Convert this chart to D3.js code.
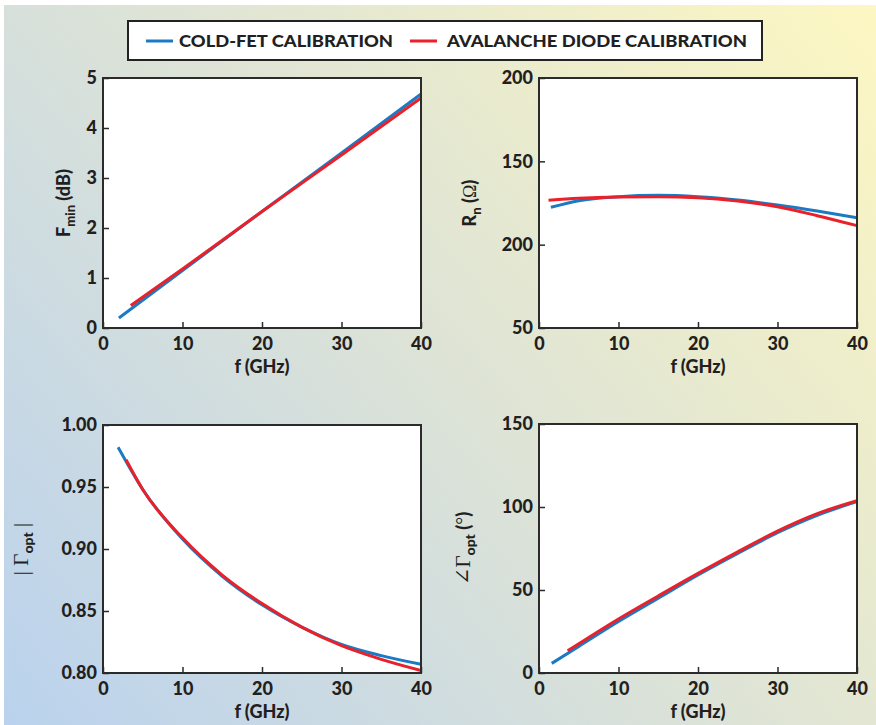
<!DOCTYPE html>
<html>
<head>
<meta charset="utf-8">
<script src="https://cdn.jsdelivr.net/npm/d3@7"></script>
<style>
  html, body { margin: 0; padding: 0; background: #fff; }
  svg { display: block; }
  .tick text { font-family: Lato, "Open Sans", sans-serif; font-weight: 900; font-size: 18px; fill: #231f20; }
  .tick line { stroke: #2b2b2b; stroke-width: 1.5; }
  .domain { display: none; }
  .lab { font-family: Lato, "Open Sans", sans-serif; font-weight: 900; font-size: 18px; fill: #231f20; }
  .serif { font-family: "Liberation Serif", "DejaVu Serif", serif; font-weight: 400; }
</style>
</head>
<body>
<svg id="chart" width="876" height="725"></svg>
<script>
// ---- data ----
const seriesNames = ['COLD-FET CALIBRATION', 'AVALANCHE DIODE CALIBRATION'];
const seriesColors = ['#1b7ac4', '#e8212b'];

const xTicks = [0, 10, 20, 30, 40];

const fminCold = [[2, 0.2], [10, 1.15], [20, 2.33], [30, 3.5], [40, 4.68]];
const fminAval = [[3.5, 0.45], [10, 1.18], [20, 2.33], [30, 3.46], [40, 4.6]];
const fminTicks = [0, 1, 2, 3, 4, 5];

const rnCold = [[1.5, 122.4], [5, 126.4], [10, 128.8], [15, 129.6], [20, 128.8], [25, 126.8], [30, 123.8], [35, 120.2], [40, 116.2]];
const rnAval = [[1.2, 126.6], [5, 127.8], [10, 128.6], [15, 128.8], [20, 128.2], [25, 126.2], [30, 122.8], [35, 117.4], [40, 111.4]];
const rnTicks = [50, 100, 150, 200];
const rnTickLabels = ['50', '200', '150', '200'];   // as printed in the original

const magCold = [[1.9, 0.982], [5, 0.948], [10, 0.908], [15, 0.878], [20, 0.855], [25, 0.837], [30, 0.823], [35, 0.814], [40, 0.807]];
const magAval = [[2.9, 0.972], [5, 0.948], [10, 0.909], [15, 0.879], [20, 0.856], [25, 0.837], [30, 0.822], [35, 0.811], [40, 0.802]];
const magTicks = [0.80, 0.85, 0.90, 0.95, 1.00];

const angCold = [[1.6, 5.8], [5, 16], [10, 31], [15, 45], [20, 59], [25, 72], [30, 84.5], [35, 95], [40, 103.2]];
const angAval = [[3.6, 13.4], [5, 17.6], [10, 32.5], [15, 46.4], [20, 60], [25, 73], [30, 85.5], [35, 96], [40, 103.8]];
const angTicks = [0, 50, 100, 150];

const svg = d3.select('#chart');

// background
const defs = svg.append('defs');
const grad = defs.append('linearGradient')
    .attr('id', 'bg').attr('gradientUnits', 'userSpaceOnUse')
    .attr('x1', 0).attr('y1', 725).attr('x2', 876).attr('y2', 0);
grad.append('stop').attr('offset', '0%').attr('stop-color', '#bad2ee');
grad.append('stop').attr('offset', '50%').attr('stop-color', '#dde3d6');
grad.append('stop').attr('offset', '100%').attr('stop-color', '#fdf7c2');
svg.append('rect').attr('x', 4).attr('y', 5).attr('width', 872).attr('height', 720).attr('fill', 'url(#bg)');

// legend
const leg = svg.append('g');
leg.append('rect').attr('x', 128).attr('y', 21).attr('width', 634).attr('height', 39)
    .attr('fill', '#fff').attr('stroke', '#222').attr('stroke-width', 2);
const legX = [146, 410];
const legTx = [179, 447];
const legW = [214, 300];
seriesNames.forEach((n, i) => {
    leg.append('line').attr('x1', legX[i]).attr('x2', legX[i] + 27).attr('y1', 41).attr('y2', 41)
        .attr('stroke', seriesColors[i]).attr('stroke-width', 3);
    leg.append('text').attr('class', 'lab').attr('x', legTx[i]).attr('y', 47)
        .attr('textLength', legW[i]).attr('lengthAdjust', 'spacingAndGlyphs')
        .style('font-size', '17px').text(n);
});

function drawPanel({ left, top, w, h, yDomain, yTicks, yFmt, cold, aval, ylab, ylabX }) {
    const g = svg.append('g').attr('transform', `translate(${left},${top})`);
    const x = d3.scaleLinear().domain([0, 40]).range([0, w]);
    const y = d3.scaleLinear().domain(yDomain).range([h, 0]);

    g.append('rect').attr('width', w).attr('height', h).attr('fill', '#fff');

    g.append('g').attr('transform', `translate(0,${h})`)
        .call(d3.axisBottom(x).tickValues(xTicks).tickSizeInner(-6).tickSizeOuter(0).tickPadding(5))
        .call(a => a.selectAll('text').attr('dy', '0.95em'));
    g.append('g')
        .call(d3.axisLeft(y).tickValues(yTicks).tickFormat(yFmt).tickSizeInner(-6).tickSizeOuter(0).tickPadding(6));

    const line = d3.line().x(d => x(d[0])).y(d => y(d[1])).curve(d3.curveMonotoneX);
    [cold, aval].forEach((s, i) => {
        g.append('path').datum(s).attr('d', line)
            .attr('fill', 'none').attr('stroke', seriesColors[i]).attr('stroke-width', 3);
    });

    g.append('rect').attr('width', w).attr('height', h)
        .attr('fill', 'none').attr('stroke', '#2b2b2b').attr('stroke-width', 2);

    g.append('text').attr('class', 'lab').attr('x', w / 2).attr('y', h + 45)
        .attr('text-anchor', 'middle').text('f (GHz)');

    const yl = g.append('text').attr('class', 'lab').attr('text-anchor', 'middle')
        .attr('transform', `translate(${ylabX},${h / 2}) rotate(-90)`);
    ylab(yl);
}

const W = 318, H = 250;

drawPanel({
    left: 103, top: 78, w: W, h: H, yDomain: [0, 5], yTicks: fminTicks, yFmt: d3.format('d'),
    cold: fminCold, aval: fminAval, ylabX: -33,
    ylab: t => {
        t.append('tspan').text('F');
        t.append('tspan').attr('dy', 5).style('font-size', '13px').text('min');
        t.append('tspan').attr('dy', -5).text(' (dB)');
    }
});

drawPanel({
    left: 539, top: 78, w: W, h: H, yDomain: [50, 200], yTicks: rnTicks,
    yFmt: (d, i) => rnTickLabels[i],
    cold: rnCold, aval: rnAval, ylabX: -63,
    ylab: t => {
        t.append('tspan').text('R');
        t.append('tspan').attr('dy', 5).style('font-size', '13px').text('n');
        t.append('tspan').attr('dy', -5).text(' (');
        t.append('tspan').attr('class', 'serif').text('Ω');
        t.append('tspan').text(')');
    }
});

drawPanel({
    left: 103, top: 425, w: W, h: 248, yDomain: [0.8, 1.0], yTicks: magTicks, yFmt: d3.format('.2f'),
    cold: magCold, aval: magAval, ylabX: -75,
    ylab: t => {
        t.append('tspan').attr('class', 'serif').style('font-size', '21px').text('| Γ');
        t.append('tspan').attr('dy', 5).style('font-size', '14px').text('opt');
        t.append('tspan').attr('dy', -5).attr('class', 'serif').style('font-size', '21px').text(' |');
    }
});

drawPanel({
    left: 539, top: 424, w: W, h: 249, yDomain: [0, 150], yTicks: angTicks, yFmt: d3.format('d'),
    cold: angCold, aval: angAval, ylabX: -69,
    ylab: t => {
        t.append('tspan').attr('class', 'serif').style('font-size', '21px').text('∠Γ');
        t.append('tspan').attr('dy', 5).style('font-size', '14px').text('opt');
        t.append('tspan').attr('dy', -5).text(' (');
        t.append('tspan').attr('class', 'serif').style('font-size', '20px').text('°');
        t.append('tspan').text(')');
    }
});
</script>
</body>
</html>
